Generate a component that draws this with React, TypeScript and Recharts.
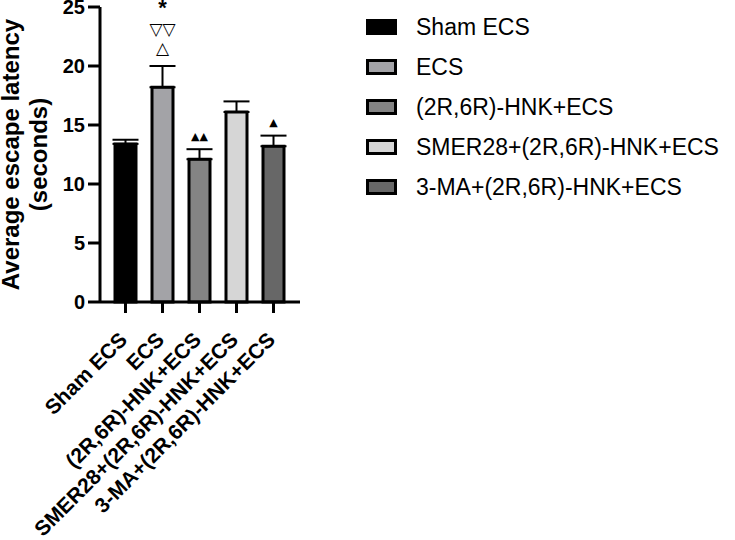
import { BarChart, Bar, XAxis, YAxis, ErrorBar, Cell, Label, LabelList } from "recharts";

const groups = [
  "Sham ECS",
  "ECS",
  "(2R,6R)-HNK+ECS",
  "SMER28+(2R,6R)-HNK+ECS",
  "3-MA+(2R,6R)-HNK+ECS",
];
const means = [13.4, 18.2, 12.1, 16.1, 13.2];
const sems = [0.35, 1.8, 0.85, 0.9, 0.9];
const fills = ["#000000", "#a3a3a7", "#848484", "#d6d6d6", "#676767"];
// significance marks stacked above each error bar (bottom first)
const marks: string[][] = [[], ["△", "▽▽", "*"], ["▲▲"], [], ["▲"]];
const yTicks = [0, 5, 10, 15, 20, 25];

const data = groups.map((name, i) => ({
  name,
  mean: means[i],
  err: [0, sems[i]],
}));

const FONT = "Liberation Sans, Arial, Helvetica, sans-serif";

function XTick({ x, y, payload }: any) {
  return (
    <g transform={`translate(${x + 3},${y + 26}) rotate(-45)`}>
      <text
        x={0}
        y={0}
        textAnchor="end"
        fontFamily={FONT}
        fontWeight="bold"
        fontSize={21}
        fill="#000"
      >
        {payload.value}
      </text>
    </g>
  );
}

function YTick({ x, y, payload }: any) {
  return (
    <text
      x={x}
      y={y}
      dy={7}
      textAnchor="end"
      fontFamily={FONT}
      fontWeight="bold"
      fontSize={20}
      fill="#000"
    >
      {payload.value}
    </text>
  );
}

function YTitle({ viewBox }: any) {
  const cy = viewBox.y + viewBox.height / 2;
  return (
    <g fontFamily={FONT} fontWeight="bold" fontSize={24} fill="#000">
      <text x={19} y={cy} textAnchor="middle" transform={`rotate(-90, 19, ${cy})`}>
        Average escape latency
      </text>
      <text x={47} y={cy} textAnchor="middle" transform={`rotate(-90, 47, ${cy})`}>
        (seconds)
      </text>
    </g>
  );
}

// centre offsets (px above the error bar top) for the stacked marks
const markGap = [18, 37, 57];

function Marks(props: any) {
  const { x, y, width, height, value, index } = props;
  const list = marks[index];
  if (!list || list.length === 0) return null;
  const perUnit = height / value;
  const errTop = y - sems[index] * perUnit;
  const cx = x + width / 2;
  return (
    <g fill="#000" textAnchor="middle">
      {list.map((m, k) => {
        const filled = m.startsWith("▲");
        const star = m === "*";
        const off = filled ? 13 : markGap[k];
        return (
          <text
            key={k}
            x={cx}
            y={errTop - off + (star ? 6 : 0)}
            dominantBaseline={star ? "auto" : "central"}
            fontSize={star ? 22 : filled ? 11 : 17}
            fontFamily={star ? FONT : "DejaVu Sans, sans-serif"}
            fontWeight={star ? "bold" : "normal"}
          >
            {m}
          </text>
        );
      })}
    </g>
  );
}

function Legend() {
  return (
    <div style={{ position: "absolute", left: 366, top: 7 }}>
      {groups.map((g, i) => (
        <div
          key={g}
          style={{ display: "flex", alignItems: "center", height: 40, fontFamily: FONT, fontSize: 23 }}
        >
          <div
            style={{
              width: 31,
              height: 16,
              boxSizing: "border-box",
              border: "3px solid #000",
              background: fills[i],
              marginRight: 19,
            }}
          />
          <span style={{ color: "#000" }}>{g}</span>
        </div>
      ))}
    </div>
  );
}

export default function App() {
  return (
    <div style={{ position: "absolute", left: 0, top: 0, width: 735, height: 540, background: "#fff" }}>
      <BarChart
        width={735}
        height={540}
        data={data}
        margin={{ top: 7, right: 435, bottom: 0, left: 0 }}
        barCategoryGap={0}
      >
        <XAxis
          dataKey="name"
          height={238}
          interval={0}
          tick={<XTick />}
          tickSize={11}
          padding={{ left: 7, right: 8 }}
          axisLine={{ stroke: "#000", strokeWidth: 3 }}
          tickLine={{ stroke: "#000", strokeWidth: 3 }}
        />
        <YAxis
          domain={[0, 25]}
          ticks={yTicks}
          width={100}
          interval={0}
          tick={<YTick />}
          tickSize={12}
          tickMargin={3}
          axisLine={{ stroke: "#000", strokeWidth: 3 }}
          tickLine={{ stroke: "#000", strokeWidth: 3 }}
        >
          <Label content={<YTitle />} />
        </YAxis>
        <Bar dataKey="mean" barSize={21} stroke="#000" strokeWidth={3} isAnimationActive={false}>
          {data.map((d, i) => (
            <Cell key={d.name} fill={fills[i]} />
          ))}
          <ErrorBar dataKey="err" width={13} stroke="#000" strokeWidth={2} direction="y" />
          <LabelList dataKey="mean" content={<Marks />} />
        </Bar>
      </BarChart>
      <Legend />
    </div>
  );
}
